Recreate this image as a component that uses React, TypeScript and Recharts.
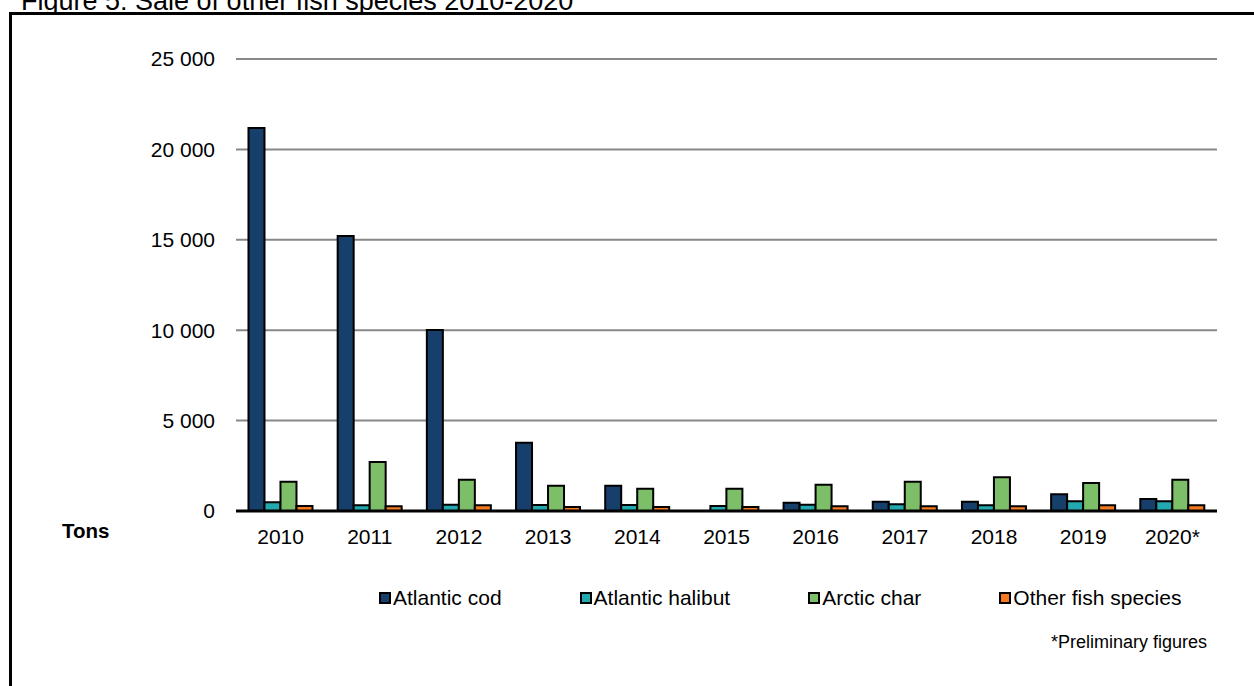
import { BarChart, Bar, XAxis, YAxis, CartesianGrid } from "recharts"

const years = ["2010", "2011", "2012", "2013", "2014", "2015", "2016", "2017", "2018", "2019", "2020*"]
const atlanticCod = [21180, 15210, 10010, 3780, 1400, 0, 460, 510, 510, 920, 660]
const atlanticHalibut = [480, 320, 350, 330, 330, 280, 350, 370, 320, 540, 540]
const arcticChar = [1620, 2710, 1730, 1400, 1230, 1230, 1450, 1620, 1860, 1550, 1730]
const otherSpecies = [280, 260, 320, 220, 220, 220, 260, 260, 260, 320, 320]
const yTicks = [0, 5000, 10000, 15000, 20000, 25000]

const series = [
  { key: "cod", name: "Atlantic cod", color: "#173F6B" },
  { key: "halibut", name: "Atlantic halibut", color: "#22A9B0" },
  { key: "char", name: "Arctic char", color: "#7DBF69" },
  { key: "other", name: "Other fish species", color: "#F57A1F" },
]

const FONT = "'Liberation Sans', Arial, sans-serif"

// thousands with a space, like "25 000"
const formatTons = (v: number) => String(v).replace(/\B(?=(\d{3})+(?!\d))/g, " ")

export default function App() {
  const chartData = years.map((year, i) => ({
    year,
    cod: atlanticCod[i],
    halibut: atlanticHalibut[i],
    char: arcticChar[i],
    other: otherSpecies[i],
  }))

  return (
    <div
      style={{
        position: "fixed",
        top: 0,
        left: 0,
        width: 1254,
        height: 686,
        overflow: "hidden",
        background: "#fff",
        fontFamily: FONT,
        color: "#000",
      }}
    >
      <div style={{ position: "absolute", left: 21, top: -14, fontSize: 27, whiteSpace: "nowrap" }}>
        Figure 5: Sale of other fish species 2010-2020
      </div>
      <div
        style={{
          position: "absolute",
          left: 9,
          top: 12,
          width: 1400,
          height: 900,
          border: "3px solid #000",
          background: "#fff",
        }}
      />
      <div style={{ position: "absolute", left: 0, top: 0 }}>
        <BarChart
          width={1254}
          height={686}
          data={chartData}
          margin={{ top: 59, right: 37, left: 0, bottom: 145 }}
          barCategoryGap="14%"
          barGap={0}
        >
          <CartesianGrid vertical={false} stroke="#888" strokeWidth={2} />
          <XAxis
            dataKey="year"
            tickLine={false}
            axisLine={{ stroke: "#000", strokeWidth: 3 }}
            tickMargin={12}
            tick={{ fill: "#000", fontSize: 21, fontFamily: FONT }}
            interval={0}
          />
          <YAxis
            width={236}
            domain={[0, 25000]}
            ticks={yTicks}
            tickFormatter={formatTons}
            tickLine={false}
            axisLine={false}
            tickMargin={15}
            tick={{ fill: "#000", fontSize: 21, fontFamily: FONT }}
          />
          {series.map((s) => (
            <Bar
              key={s.key}
              dataKey={s.key}
              name={s.name}
              fill={s.color}
              stroke="#000"
              strokeWidth={2}
              isAnimationActive={false}
            />
          ))}
        </BarChart>
      </div>
      <div
        style={{
          position: "absolute",
          left: 62,
          top: 519,
          fontSize: 20.5,
          fontWeight: "bold",
        }}
      >
        Tons
      </div>
      {/* legend row */}
      <div
        style={{
          position: "absolute",
          left: 379,
          top: 586,
          display: "flex",
          alignItems: "center",
          fontSize: 21,
          whiteSpace: "nowrap",
        }}
      >
        {series.map((s, i) => (
          <div
            key={s.key}
            style={{ display: "flex", alignItems: "center", marginLeft: i === 0 ? 0 : 78 }}
          >
            <span
              style={{
                display: "inline-block",
                width: 8,
                height: 8,
                background: s.color,
                border: "2px solid #000",
                marginRight: 2,
              }}
            />
            <span>{s.name}</span>
          </div>
        ))}
      </div>
      <div
        style={{
          position: "absolute",
          right: 1254 - 1207,
          top: 632,
          fontSize: 18,
          whiteSpace: "nowrap",
        }}
      >
        *Preliminary figures
      </div>
    </div>
  )
}
